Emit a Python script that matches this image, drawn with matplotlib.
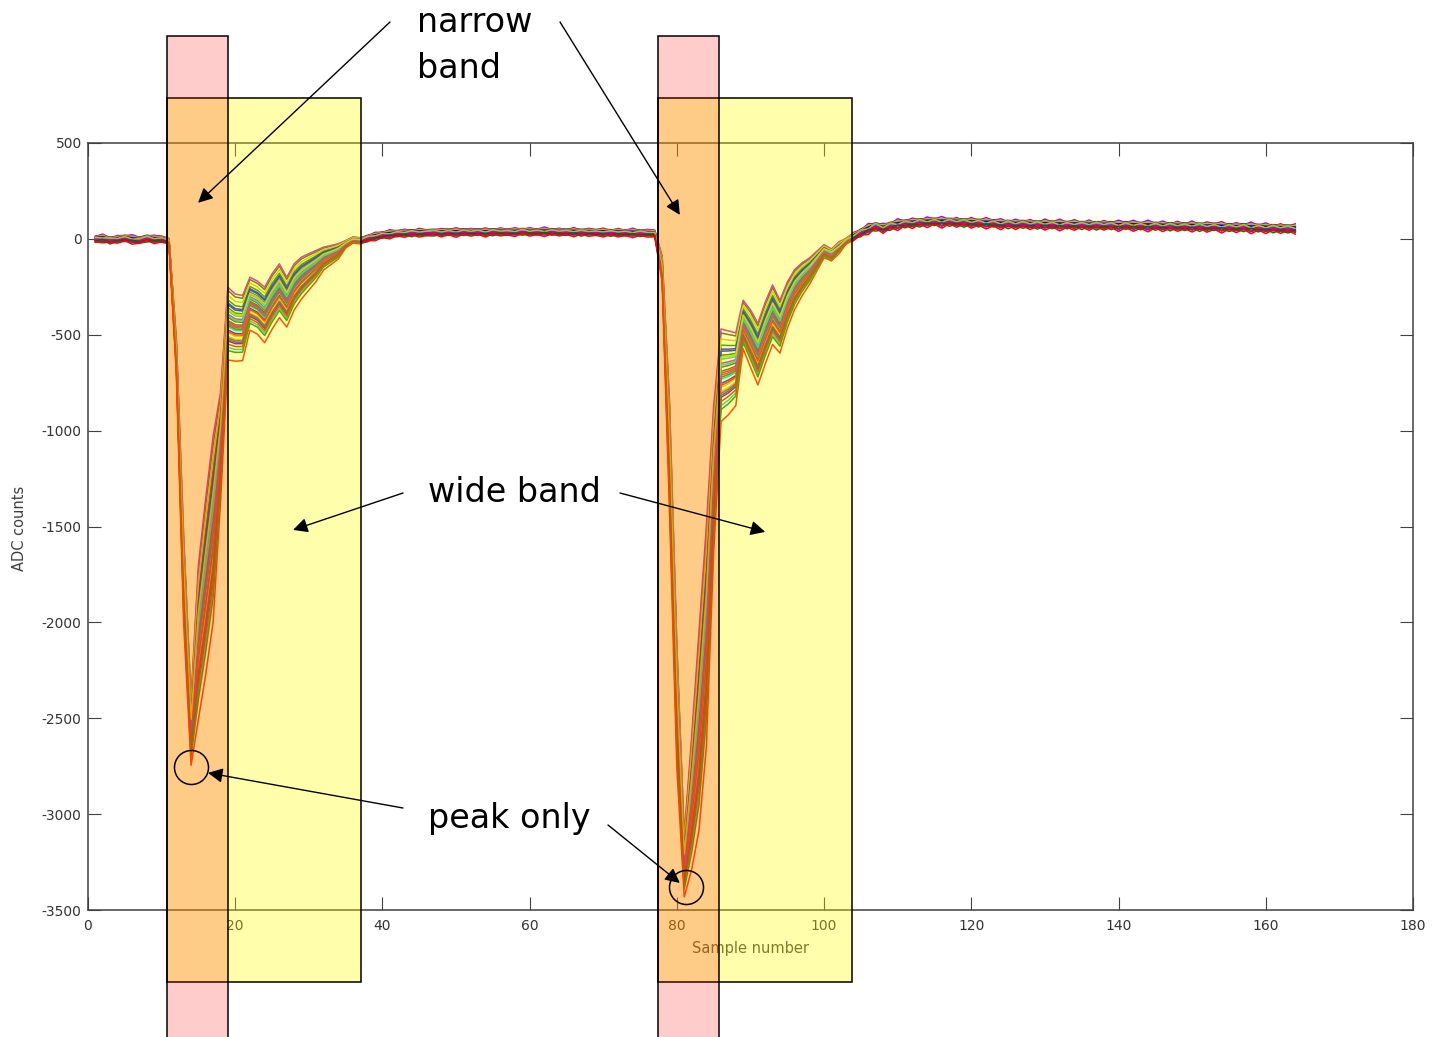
import numpy as np
import matplotlib
matplotlib.use("Agg")
import matplotlib.pyplot as plt
from matplotlib.patches import Rectangle

plt.rcParams['axes.unicode_minus'] = False

# ---------------------------------------------------------------- data
samples = np.arange(1, 165)

# mean ADC waveform, sample 1..164
mean_counts = (
    [0, 5, -5, 0, 5, 0, -5, 5, 0, 0]
    + [-10, -600, -1750, -2550, -2050, -1750, -1450, -1050, -417, -440,
       -443, -320, -340, -378, -308, -252, -313, -235, -190, -160,
       -130, -95, -78, -60, -26, -4, -8]
    + [5, 15, 22, 27, 30, 32, 33, 35, 34, 36, 35, 37, 36, 38, 37, 38, 36,
       38, 39, 37, 38, 40, 39, 38, 40, 39, 38, 37, 38, 36, 37, 35, 36, 34,
       35, 33, 34, 32, 32]
    + [30, -150, -1100, -2400, -3250, -2900, -2500, -2000, -1200, -680,
       -670, -655, -430, -500, -580, -470, -375, -440, -330, -250,
       -200, -160, -110, -60, -80, -43, -10, 15]
    + [35, 55, 68, 58, 70, 78, 82, 85, 88, 90, 92, 90, 91, 89, 88, 87, 86,
       85, 84, 80, 80, 79, 80, 78, 77, 78, 77, 76, 75, 76, 74, 75, 73, 74,
       73, 72, 73, 72, 70, 71, 70, 69, 68, 69, 67, 68, 66, 65, 66, 64, 63,
       62, 63, 61, 60, 59, 58, 57, 56, 55]
)

# half-width of the bundle of events at each sample
spread_counts = (
    [15, 15, 15, 15, 15, 15, 15, 15, 15, 15]
    + [12, 80, 200, 150, 350, 400, 420, 250, 165, 152, 148, 120, 120, 126,
       126, 122, 113, 105, 95, 83, 70, 52, 43, 35, 17, 14, 14]
    + [15, 15, 15, 15, 15, 15, 15, 15, 15, 15, 15, 15, 15, 15, 15, 15, 15,
       15, 15, 15, 15, 15, 15, 15, 15, 15, 15, 15, 15, 15, 15, 15, 15, 15,
       15, 15, 15, 15, 15]
    + [15, 60, 250, 280, 140, 300, 450, 500, 330, 210, 190, 165, 110, 130,
       140, 140, 135, 120, 105, 90, 75, 60, 45, 30, 30, 23, 15, 15]
    + [17, 17, 17, 17, 17, 17, 17, 17, 17, 17, 17, 17, 17, 17, 17, 17, 17,
       17, 17, 17, 17, 17, 17, 17, 17, 17, 17, 17, 17, 17, 17, 17, 17, 17,
       17, 17, 17, 17, 17, 17, 17, 17, 17, 17, 17, 17, 17, 17, 17, 17, 17,
       17, 17, 17, 17, 17, 17, 17, 17, 17]
)

# pedestal noise pattern
ripple_counts = (
    [4, -6, 8, -3, 5, -8, 2, 7, -5, 3]
    + [0] * 27
    + [6, -5, 4, -7, 5, -4, 8, -6, 3, 7, -5, 4, -8, 6, -3, 5, -7, 8, -4, 3,
       -6, 7, -5, 4, -8, 6, -3, 5, -7, 8, -4, 3, -6, 7, -5, 4, -8, 6, -3]
    + [0] * 24 + [5, -6, 4, -5]
    + [8, -10, 12, -7, 10, -12, 9, -8, 11, -9, 7, -12, 10, -6, 12, -9, 8,
       -11, 6, -10, 12, -8, 9, -7, 11, -10, 8, -12, 7, -9, 10, -8, 12, -6,
       9, -11, 8, -10, 7, -12, 10, -9, 11, -7, 8, -10, 12, -8, 6, -11, 9,
       -7, 10, -12, 8, -9, 11, -6, 10, -8]
)

# per-event amplitude and noise weights
amp_weights = [0.35, -0.6, 0.9, -0.15, 0.55, -0.9, 0.1, 0.7, -0.35, 0.25,
               -1.0, 0.45, -0.05, 0.8, -0.5, 0.2, -0.25, 0.6, -0.75, 0.05,
               0.4, -0.45, 1.0, -0.1, 0.15, -0.3, 0.65, 1.3]
noise_weights = [0.8, -0.5, 0.3, -0.9, 0.6, 0.1, -0.7, 0.9, -0.2, 0.5,
                 -0.8, 0.4, -0.3, 0.7, -0.6, 0.2, -1.0, 0.95, -0.4, 0.35,
                 -0.65, 0.15, -0.85, 0.55, -0.1, 0.75, -0.45, 1.0]

x_ticks = [0, 20, 40, 60, 80, 100, 120, 140, 160, 180]
y_ticks = [-3500, -3000, -2500, -2000, -1500, -1000, -500, 0, 500]

# integration windows (sample numbers)
narrow_windows = [(10.7, 19.0), (77.4, 85.7)]
wide_windows = [(10.7, 37.1), (77.4, 103.8)]

trace_colors = ['#0000FF', '#008000', '#00BFBF', '#BF00BF', '#BFBF00',
                '#404040', '#FF0000']

# ---------------------------------------------------------------- figure
W, H = 1441, 1037
fig = plt.figure(figsize=(W / 100, H / 100), dpi=100)
ax = fig.add_axes([88 / W, 1 - 910 / H, (1413 - 88) / W, (910 - 143) / H])


def fig_xy(px, py):
    return (px / W, 1 - py / H)


mean = np.array(mean_counts, dtype=float)
spread = np.array(spread_counts, dtype=float)
ripple = np.array(ripple_counts, dtype=float)

for i, (wa, wn) in enumerate(zip(amp_weights, noise_weights)):
    trace = mean - wa * spread + wn * ripple
    ax.plot(samples, trace, color=trace_colors[i % len(trace_colors)],
            lw=1.1, zorder=3)

ax.set_xlim(0, 180)
ax.set_ylim(-3500, 500)
ax.set_xticks(x_ticks)
ax.set_yticks(y_ticks)
ax.tick_params(direction='in', length=9.5, width=0.8, color='#404040',
               labelcolor='#333333', labelsize=10, top=True, right=True)
ax.tick_params(axis='x', pad=6.5)
ax.tick_params(axis='y', pad=4.5)
for sp in ax.spines.values():
    sp.set_color('#404040')
    sp.set_linewidth(1.1)

ax.set_xlabel('Sample number', fontsize=10.5, color='#404040')
ax.xaxis.set_label_coords(0.5, -(948 - 910) / 767)
ax.xaxis.label.set_va('center')
ax.set_ylabel('ADC counts', fontsize=10.5, color='#404040')
ax.yaxis.set_label_coords(-(88 - 20) / 1325, (910 - 528) / 767)
ax.yaxis.label.set_va('center')

# translucent window overlays
for x0, x1 in wide_windows:
    ax.add_patch(Rectangle((x0, -3875), x1 - x0, 735 + 3875,
                           facecolor=(1, 1, 0, 0.33), edgecolor='black',
                           lw=1.1, clip_on=False, zorder=10))
for x0, x1 in narrow_windows:
    ax.add_patch(Rectangle((x0, -4600), x1 - x0, 1060 + 4600,
                           facecolor=(1, 0, 0, 0.2), edgecolor='black',
                           lw=1.1, clip_on=False, zorder=11))

# labels and arrows
txt_kw = dict(fontsize=24, color='black', ha='left', va='baseline',
              zorder=30)
fig.text(*fig_xy(417, 32), 'narrow', **txt_kw)
fig.text(*fig_xy(417, 78), 'band', **txt_kw)
fig.text(*fig_xy(428, 502), 'wide band', **txt_kw)
fig.text(*fig_xy(428, 828), 'peak only', **txt_kw)

arrow_kw = dict(arrowstyle='-|>', color='black', lw=1.0,
                mutation_scale=22, shrinkA=0, shrinkB=0)
arrows = [
    ((390, 22), (14.95, 188)),
    ((560, 22), (80.4, 125)),
    ((403, 493), (27.85, -1518)),
    ((620, 493), (92.0, -1528)),
    ((403, 808), (16.3, -2785)),
    ((608, 825), (80.4, -3359)),
]
for (px, py), target in arrows:
    ax.annotate('', xy=target, xycoords='data',
                xytext=fig_xy(px, py), textcoords='figure fraction',
                arrowprops=arrow_kw, annotation_clip=False, zorder=25)

peak_marks_x = [14.0, 81.3]
peak_marks_y = [-2755, -3380]
ax.plot(peak_marks_x, peak_marks_y, ls='none', marker='o', ms=24.5,
        mfc='none', mec='black', mew=1.1, clip_on=False, zorder=25)

fig.savefig('out.png', dpi=100)
